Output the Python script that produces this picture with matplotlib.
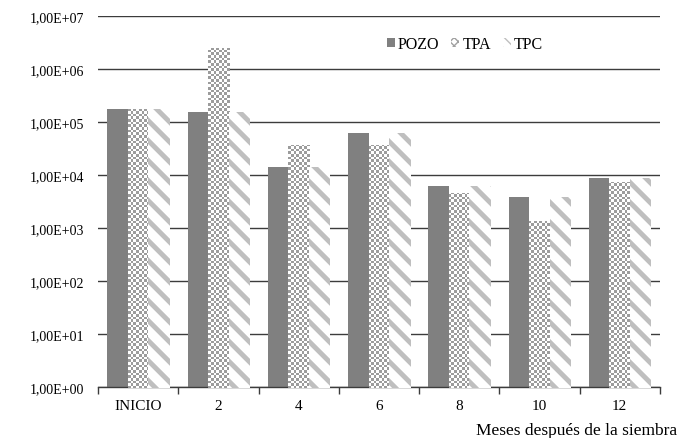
import matplotlib
matplotlib.use("Agg")
import matplotlib.pyplot as plt
from matplotlib.patches import Patch
import numpy as np

categories = ["INICIO", "2", "4", "6", "8", "10", "12"]
pozo = [1.8e5, 1.57e5, 1.42e4, 6.1e4, 6.3e3, 3.9e3, 8.9e3]
tpa = [1.8e5, 2.49e6, 3.7e4, 3.7e4, 4.6e3, 1.37e3, 7.5e3]
tpc = [1.8e5, 1.57e5, 1.42e4, 6.1e4, 6.3e3, 3.9e3, 8.9e3]
ytick_vals = [1e0, 1e1, 1e2, 1e3, 1e4, 1e5, 1e6, 1e7]
ytick_labels = ["1,00E+00", "1,00E+01", "1,00E+02", "1,00E+03",
                "1,00E+04", "1,00E+05", "1,00E+06", "1,00E+07"]
xlabel = "Meses después de la siembra"

plt.rcParams['font.family'] = ['Liberation Serif', 'DejaVu Serif']

W, H = 683, 439
fig = plt.figure(figsize=(W / 100, H / 100), dpi=100)
ax = fig.add_axes([0.1435, 0.116, 0.8225, 0.845])

x = np.arange(len(categories))
w = 0.255

b1 = ax.bar(x - w, pozo, w, bottom=1, color="#808080", linewidth=0, zorder=2)
b2 = ax.bar(x, tpa, w, bottom=1, color="white", linewidth=0, zorder=2)
b3 = ax.bar(x + w, tpc, w, bottom=1, color="white", linewidth=0, zorder=2)

# fill patterns (pixel checkerboard and diagonal stripes), clipped to the bars
rr, cc = np.mgrid[0:H, 0:W]
s = 2.67
checker = ((np.floor((cc + 0.5) / s) + np.floor((rr + 0.5) / s)) % 2).astype(bool)
chk = np.ones((H, W, 4))
chk[checker, :3] = 0x9c / 255

ss = 4
acc = np.zeros((H, W))
for i in range(ss):
    for j in range(ss):
        d = np.mod((rr + (i + 0.5) / ss) - (cc + (j + 0.5) / ss), 20.0)
        acc += ((d >= 10) & (d < 17)).astype(float)
acc /= ss * ss
stripe_gray = 0xbf / 255
stp = np.ones((H, W, 4))
for k in range(3):
    stp[..., k] = 1 - acc * (1 - stripe_gray)

for p in b2:
    im = fig.figimage(chk, 0, 0, zorder=1)
    im.set_clip_path(p)
for p in b3:
    im = fig.figimage(stp, 0, 0, zorder=1)
    im.set_clip_path(p)

ax.set_yscale("log")
ax.set_ylim(1, 1e7)
ax.set_xlim(-0.5, len(categories) - 0.5)
ax.set_yticks(ytick_vals)
ax.set_yticklabels(ytick_labels, fontsize=10)
ax.yaxis.set_minor_locator(matplotlib.ticker.NullLocator())
ax.tick_params(axis="y", length=0, pad=10)
ax.grid(axis="y", color="#3c3c3c", linewidth=1.0, zorder=1)
ax.set_axisbelow(True)

ax.set_xticks(x)
ax.set_xticklabels(categories, fontsize=11)
ax.set_xticks(np.arange(len(categories) + 1) - 0.5, minor=True)
ax.tick_params(axis="x", which="major", length=0, pad=8.5)
ax.tick_params(axis="x", which="minor", length=5, width=1, color="#3c3c3c", direction="out")

for sp in ["top", "right", "left"]:
    ax.spines[sp].set_visible(False)
ax.spines["bottom"].set_color("#3c3c3c")
ax.spines["bottom"].set_linewidth(1.0)
ax.spines["bottom"].set_zorder(3)

fig.text(677 / W, 1 - 431 / H, xlabel, ha="right", va="center", fontsize=12.5)

handles = [Patch(facecolor="#808080", linewidth=0),
           Patch(facecolor="white", edgecolor="#a0a0a0", hatch="xxxx", linewidth=0),
           Patch(facecolor="white", edgecolor="#bfbfbf", hatch="\\\\\\", linewidth=0)]
ax.legend(handles, ["POZO", "TPA", "TPC"], loc="center", bbox_to_anchor=(0.653, 0.925),
          ncol=3, frameon=False, fontsize=11.5, handlelength=0.5, handleheight=0.5,
          handletextpad=0.2, columnspacing=0.75, borderpad=0)

fig.savefig("out.png", dpi=100)
